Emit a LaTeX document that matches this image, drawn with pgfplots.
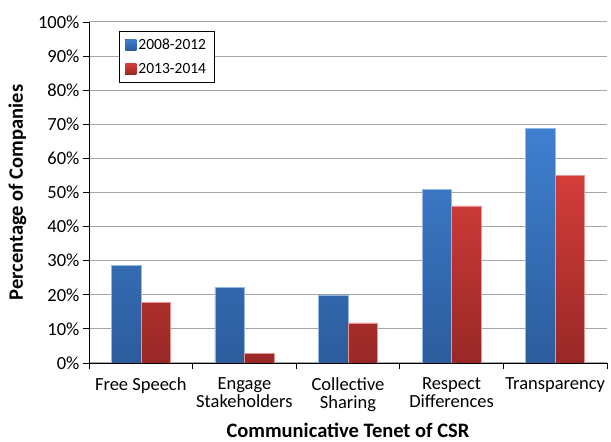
\documentclass[border=0pt]{standalone}
\usepackage{fontspec}
\setmainfont{Carlito}
\usepackage{pgfplots}
\pgfplotsset{compat=1.18}
\definecolor{bluetop}{HTML}{3F80D0}
\definecolor{bluebot}{HTML}{2C5C9C}
\definecolor{redtop}{HTML}{D33D3A}
\definecolor{redbot}{HTML}{982826}
\definecolor{gridgray}{HTML}{A6A6A6}
\begin{document}
\begin{tikzpicture}
\useasboundingbox (-89pt,-79pt) rectangle (522pt,363pt);
\begin{axis}[
  at={(0,0)}, anchor=south west,
  scale only axis, width=518pt, height=341pt,
  ybar=0pt, bar width=29.5pt,
  xmin=-0.5, xmax=4.5, ymin=0, ymax=100,
  axis x line*=bottom, axis y line*=left,
  axis line style={black, line width=0.9pt, -},
  tick align=outside, major tick length=6pt,
  tick style={black, line width=0.9pt},
  xtick={-0.5,0.5,1.5,2.5,3.5,4.5}, xticklabels={},
  extra x ticks={0,1,2,3,4},
  extra x tick labels={Free Speech, Engage\\Stakeholders, Collective\\Sharing, Respect\\Differences, Transparency},
  extra x tick style={major tick length=0pt, grid=none,
     xticklabel style={yshift=-11pt}},
  xticklabel style={align=center, font=\fontsize{18.5}{18.5}\selectfont},
  ytick={0,10,...,100},
  yticklabel={\pgfmathprintnumber{\tick}\%},
  yticklabel style={font=\fontsize{18.5}{20}\selectfont},
  /pgf/number format/assume math mode=true,
  ymajorgrids, grid style={gridgray, line width=1pt},
  ylabel={\bfseries Percentage of Companies},
  ylabel style={font=\fontsize{20.5}{22}\selectfont, yshift=5pt},
  xlabel={\bfseries Communicative Tenet of CSR},
  xlabel style={font=\fontsize{20.5}{22}\selectfont, yshift=1.5pt},
  legend style={at={(30/518,1-9/341)}, anchor=north west, draw=black, line width=1pt,
     font=\fontsize{15.5}{17}\selectfont, row sep=9pt, inner xsep=6pt, inner ysep=5pt,
     /tikz/every even column/.append style={column sep=2pt}},
  legend cell align=left,
  legend image code/.code={\fill[#1, draw=none] (0pt,-5.5pt) rectangle (11pt,5.5pt);},
]
\addplot[draw=bluetop!55!white, line width=0.5pt, top color=bluetop, bottom color=bluebot]
  coordinates {(0,28.7) (1,22.2) (2,20.0) (3,51.0) (4,68.8)};
\addplot[draw=redtop!55!white, line width=0.5pt, top color=redtop, bottom color=redbot]
  coordinates {(0,17.7) (1,2.8) (2,11.8) (3,46.1) (4,55.1)};
\legend{2008-2012, 2013-2014}
\end{axis}
\end{tikzpicture}
\end{document}
